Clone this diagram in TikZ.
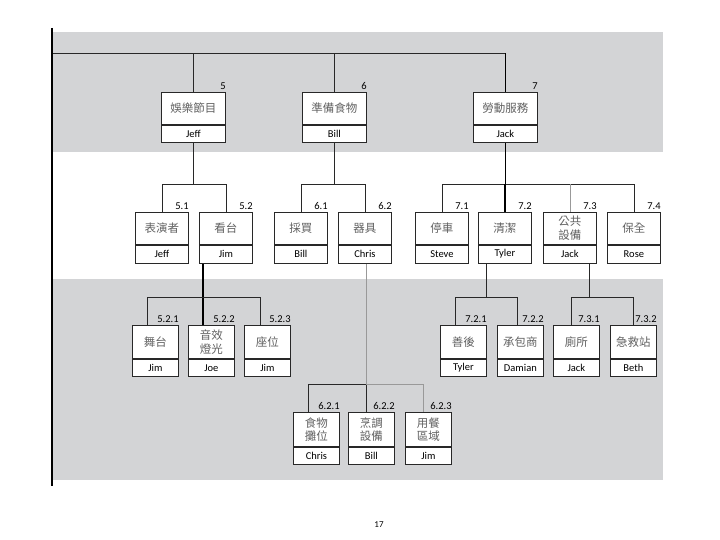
\documentclass[tikz,border=0pt]{standalone}
\usepackage{fontspec}
\setmainfont{Carlito}
\newfontfamily\cjk{Noto Sans CJK TC}
\definecolor{band}{RGB}{211,212,214}
\definecolor{ink}{RGB}{40,40,40}
\pgfdeclarelayer{back}
\pgfdeclarelayer{wires}
\pgfsetlayers{back,wires,main}
\tikzset{
  wt/.style={draw=ink, line width=0.8pt, fill=white, anchor=north west, inner sep=0pt,
    align=center, font=\cjk\fontsize{11.5}{13.5}\selectfont, text=black!62},
  wn/.style={draw=ink, line width=0.8pt, fill=white, anchor=north west, inner sep=0pt,
    font=\fontsize{10.5}{11}\selectfont},
  lbl/.style={anchor=south east, inner sep=0pt, font=\fontsize{10.5}{11}\selectfont},
  conn/.style={draw=ink, line width=0.8pt},
  heavy/.style={draw=black, line width=1.6pt},
  faint/.style={draw=black!40, line width=0.8pt}
}
% #1 name, #2 x, #3 y, #4 width, #5 top height, #6 name height, #7 chinese, #8 person, #9 label
\newcommand{\wbsbox}[9]{%
  \node[wt, minimum width=#4pt, minimum height=#5pt] (#1) at (#2,#3) {#7};
  \node[wn, minimum width=#4pt, minimum height=#6pt] (#1n) at (#1.south west) {#8};
  \draw[line width=1.6pt, ink] (#1n.north west) -- (#1n.north east);
  \node[lbl] (#1l) at ([yshift=2.5pt]#1.north east) {#9};
}
\begin{document}
\begin{tikzpicture}[x=1pt, y=-1pt]
\useasboundingbox (0,0) rectangle (720,540);
% bands
\begin{pgfonlayer}{back}
\fill[band] (52,32) rectangle (663,152);
\fill[band] (52,279) rectangle (663,480);
\end{pgfonlayer}
% left rule
\coordinate (vt) at (52,28);
\coordinate (vb) at (52,486);
\draw[line width=1.2pt] (vt) -- (vb);

% bus coordinates
\coordinate (b0) at (52,53);
\coordinate (b1) at (0,184);
\coordinate (b2) at (0,297);
\coordinate (b3) at (0,384);

% ---- boxes ----
% level 1
\wbsbox{t5}{161}{92}{64}{32}{17}{娛樂節目}{Jeff}{5}
\wbsbox{t6}{302}{92}{64}{32}{17}{準備食物}{Bill}{6}
\wbsbox{t7}{473}{92}{64}{32}{17}{勞動服務}{Jack}{7}
% level 2
\wbsbox{c51}{135}{212}{53}{32}{18}{表演者}{Jeff}{5.1}
\wbsbox{c52}{199}{212}{53}{32}{18}{看台}{Jim}{5.2}
\wbsbox{c61}{274}{212}{53}{32}{18}{採買}{Bill}{6.1}
\wbsbox{c62}{338}{212}{53}{32}{18}{器具}{Chris}{6.2}
\wbsbox{c71}{415}{212}{53}{32}{18}{停車}{Steve}{7.1}
\wbsbox{c72}{478}{212}{53}{32}{18}{清潔}{Tyler}{7.2}
\wbsbox{c73}{543}{212}{53}{32}{18}{公共\\設備}{Jack}{7.3}
\wbsbox{c74}{607}{212}{53}{32}{18}{保全}{Rose}{7.4}
% level 3
\wbsbox{d521}{132}{325}{46}{33}{17}{舞台}{Jim}{5.2.1}
\wbsbox{d522}{188}{325}{46}{33}{17}{音效\\燈光}{Joe}{5.2.2}
\wbsbox{d523}{244}{325}{46}{33}{17}{座位}{Jim}{5.2.3}
\wbsbox{d721}{440}{325}{46}{33}{17}{善後}{Tyler}{7.2.1}
\wbsbox{d722}{497}{325}{46}{33}{17}{承包商}{Damian}{7.2.2}
\wbsbox{d731}{553}{325}{46}{33}{17}{廁所}{Jack}{7.3.1}
\wbsbox{d732}{610}{325}{46}{33}{17}{急救站}{Beth}{7.3.2}
% level 4
\wbsbox{e621}{293}{412}{46}{34}{17}{食物\\攤位}{Chris}{6.2.1}
\wbsbox{e622}{348}{412}{46}{34}{17}{烹調\\設備}{Bill}{6.2.2}
\wbsbox{e623}{405}{412}{46}{34}{17}{用餐\\區域}{Jim}{6.2.3}

\node[font=\fontsize{9}{10}\selectfont, inner sep=0pt] (pg) at (379,525) {17};

% ---- connectors (behind boxes) ----
\begin{pgfonlayer}{wires}
% top bus
\draw[conn] (b0) -- (b0 -| t7.north);
\draw[conn] (t5.north) -- (t5.north |- b0);
\draw[conn] (t6.north) -- (t6.north |- b0);
\draw[heavy] (t7.north) -- (t7.north |- b0);
% level 1 -> level 2
\draw[conn] (t5n.south) -- (t5n.south |- b1);
\draw[conn] (c51.north) -- (c51.north |- b1) -| (c52.north);
\draw[conn] (t6n.south) -- (t6n.south |- b1);
\draw[conn] (c61.north) -- (c61.north |- b1) -| (c62.north);
\draw[heavy] (t7n.south) -- (t7n.south |- b1);
\draw[conn] (c71.north) -- (c71.north |- b1) -| (c74.north);
\draw[heavy] (c72.north) -- (c72.north |- b1);
\draw[faint] (c73.north) -- (c73.north |- b1);
% 5.2 -> level 3
\draw[heavy] ([xshift=15pt]d522.north west) -- ([xshift=15pt]d522.north west |- c52n.south);
\draw[conn] ([xshift=15pt]d521.north west) -- ([xshift=15pt]d521.north west |- b2) -| ([xshift=16pt]d523.north west);
% 7.2 -> level 3
\draw[conn] ([xshift=8pt]c72n.south west) -- ([xshift=8pt]c72n.south west |- b2);
\draw[conn] ([xshift=15pt]d721.north west) -- ([xshift=15pt]d721.north west |- b2) -| ([xshift=20pt]d722.north west);
% 7.3 -> level 3
\draw[conn] ([xshift=46pt]c73n.south west) -- ([xshift=46pt]c73n.south west |- b2);
\draw[conn] ([xshift=18pt]d731.north west) -- ([xshift=18pt]d731.north west |- b2) -| ([xshift=23pt]d732.north west);
% 6.2 -> level 4
\draw[faint] ([xshift=1pt]c62n.south) -- ([xshift=1pt]c62n.south |- b3);
\draw[conn] ([xshift=15pt]e621.north west) -- ([xshift=15pt]e621.north west |- b3) -- ([xshift=18pt]e622.north west |- b3);
\draw[conn] ([xshift=18pt]e622.north west) -- ([xshift=18pt]e622.north west |- b3);
\draw[faint] ([xshift=18pt]e622.north west |- b3) -| ([xshift=18pt]e623.north west);
\end{pgfonlayer}
\end{tikzpicture}
\end{document}
